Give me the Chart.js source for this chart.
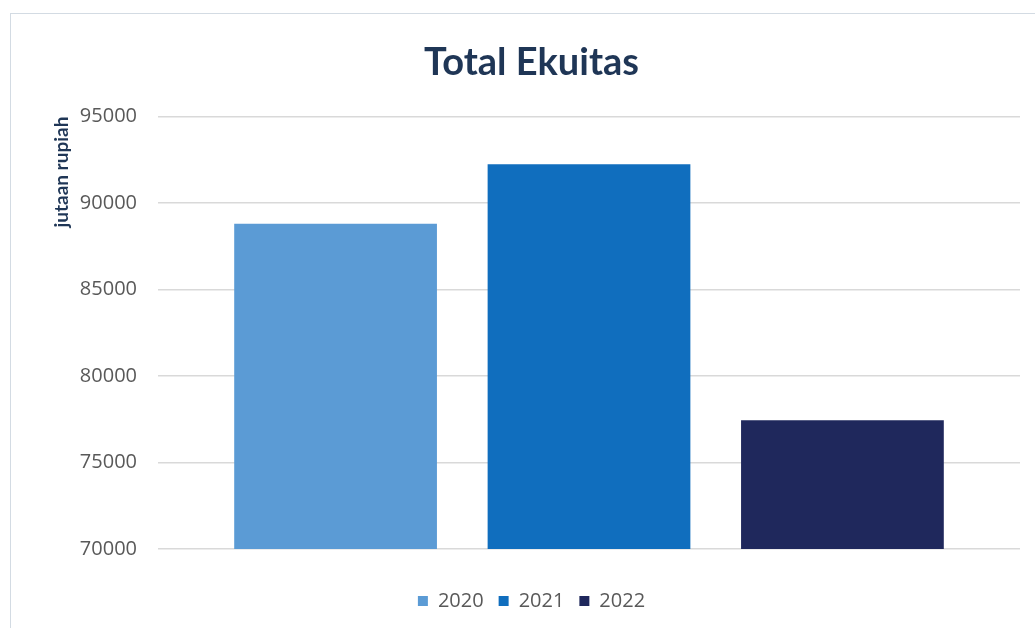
<!DOCTYPE html>
<html>
<head>
<meta charset="utf-8">
<script src="https://cdn.jsdelivr.net/npm/chart.js@4.4.0/dist/chart.umd.min.js"></script>
<style>
  html, body { margin: 0; padding: 0; background: #fff; overflow: hidden; }
  #box {
    position: absolute; left: 10px; top: 13px;
    width: 1040px; height: 640px;
    border: 1px solid #d3dbe3;
    background: #fff;
  }
  #chart { display: block; }
</style>
</head>
<body>
<div id="box"><canvas id="chart" width="1040" height="617"></canvas></div>
<script>
// data
const years = ["2020", "2021", "2022"];
const ekuitas = [88800, 92250, 77450];
const barColors = ["#5b9bd5", "#106ebe", "#1f285c"];
const yTicks = [70000, 75000, 80000, 85000, 90000, 95000];

(function () {
  const canv = document.getElementById("chart");
  canv.style.width = "1040px";
  canv.style.height = "617px";

  const datasets = years.map((y, i) => ({
    label: y,
    data: [ekuitas[i]],
    backgroundColor: barColors[i],
    borderWidth: 0,
    barPercentage: 0.8,
    categoryPercentage: 0.882,
  }));

  new Chart(canv.getContext("2d"), {
    type: "bar",
    data: { labels: [""], datasets },
    options: {
      responsive: false,
      maintainAspectRatio: false,
      animation: false,
      layout: { padding: { left: 32, right: 31, top: 0, bottom: 10 } },
      plugins: {
        title: {
          display: true,
          text: "Total Ekuitas",
          color: "#1f3656",
          font: { family: "Lato", size: 38, weight: "bold" },
          padding: { top: 26, bottom: 31 },
        },
        legend: {
          position: "bottom",
          labels: {
            color: "#595959",
            boxWidth: 10,
            boxHeight: 10,
            padding: 15,
            font: { family: "Open Sans", size: 20 },
          },
        },
        tooltip: { enabled: false },
      },
      scales: {
        x: {
          display: true,
          grid: { display: false },
          border: { display: false },
          ticks: { display: false },
          afterFit: (s) => { s.height = 27; },
        },
        y: {
          min: yTicks[0],
          max: yTicks[yTicks.length - 1],
          afterBuildTicks: (s) => { s.ticks = yTicks.map((v) => ({ value: v })); },
          afterFit: (s) => { s.width = 115; },
          border: { display: false },
          grid: { color: "#d9d9d9", lineWidth: 1.5, drawTicks: false },
          ticks: {
            color: "#595959",
            padding: 21,
            font: { family: "Open Sans", size: 20 },
            callback: (v) => String(v),
          },
          title: {
            display: true,
            text: "jutaan rupiah",
            align: "end",
            color: "#1f3656",
            font: { family: "Lato", size: 19, weight: "bold" },
            padding: { top: 7, bottom: 0 },
          },
        },
      },
    },
  });
})();
</script>
</body>
</html>
